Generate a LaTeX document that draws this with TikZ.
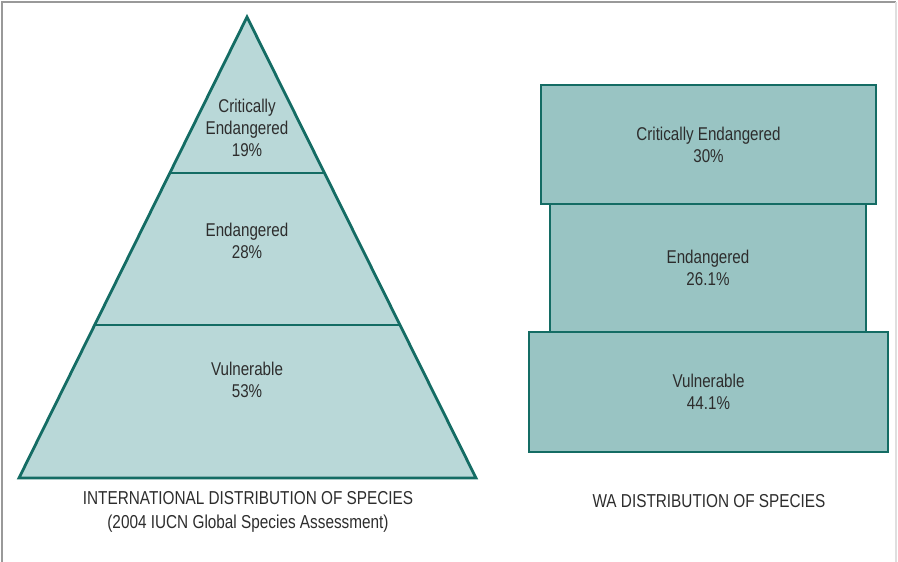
\documentclass[tikz,border=0pt]{standalone}
\usepackage{xcolor}
\usepackage{fontspec}
\setmainfont{Liberation Sans}[FakeStretch=0.82]
\usepackage{tikz}
\usetikzlibrary{positioning, calc}
\definecolor{edgecolor}{RGB}{20,108,100}
\definecolor{pyramidcolor}{RGB}{185,216,216}
\definecolor{blockcolor}{RGB}{153,196,195}
\definecolor{textcolor}{RGB}{45,45,45}

\tikzset{
    label text/.style={align=center, text=textcolor, font=\fontsize{18.5}{22}\selectfont},
    title text/.style={align=center, text=textcolor, font=\fontsize{18.7}{24}\selectfont},
    wa block/.style={draw=edgecolor, line width=2.8pt, fill=blockcolor, inner sep=0pt}
}

\begin{document}
\begin{tikzpicture}[x=1pt, y=-1pt]
    \useasboundingbox (0,0) rectangle (898,562);
    % Frame
    \draw[gray!80, line width=1.2pt] (2,562) -- (2,2) -- (896,2);
    \draw[gray!25, line width=1.2pt] (896,2) -- (896,562);

    % International pyramid
    \coordinate (apex) at (247,17);
    \coordinate (baseL) at (19,478);
    \coordinate (baseR) at (476,478);
    \draw[draw=edgecolor, line width=2.8pt, fill=pyramidcolor, line join=miter] (apex) -- (baseR) -- (baseL) -- cycle;
    \draw[edgecolor, line width=2.2pt] ($(apex)!0.3384!(baseL)$) coordinate (cutAL) -- ($(apex)!0.3384!(baseR)$) coordinate (cutAR);
    \draw[edgecolor, line width=2.2pt] ($(apex)!0.6681!(baseL)$) coordinate (cutBL) -- ($(apex)!0.6681!(baseR)$) coordinate (cutBR);

    \node[label text] (intCrit) at (247,128) {Critically\\Endangered\\19\%};
    \node[label text] (intEnd) at (247,241) {Endangered\\28\%};
    \node[label text] (intVul) at (247,380) {Vulnerable\\53\%};
    \node[title text] (intTitle) at (248,512) {INTERNATIONAL DISTRIBUTION OF SPECIES\\(2004 IUCN Global Species Assessment)};

    % WA blocks
    \node[wa block, minimum width=335pt, minimum height=119pt] (waCrit) at (708.5,144.5) {};
    \node[wa block, minimum width=316pt, minimum height=128pt] (waEnd) at (708,268) {};
    \node[wa block, minimum width=359pt, minimum height=120pt] (waVul) at (708.5,392) {};

    \node[label text] at (waCrit) {Critically Endangered\\30\%};
    \node[label text] at (waEnd) {Endangered\\26.1\%};
    \node[label text] at (waVul) {Vulnerable\\44.1\%};
    \node[title text] (waTitle) at (709,501) {WA DISTRIBUTION OF SPECIES};
\end{tikzpicture}
\end{document}
